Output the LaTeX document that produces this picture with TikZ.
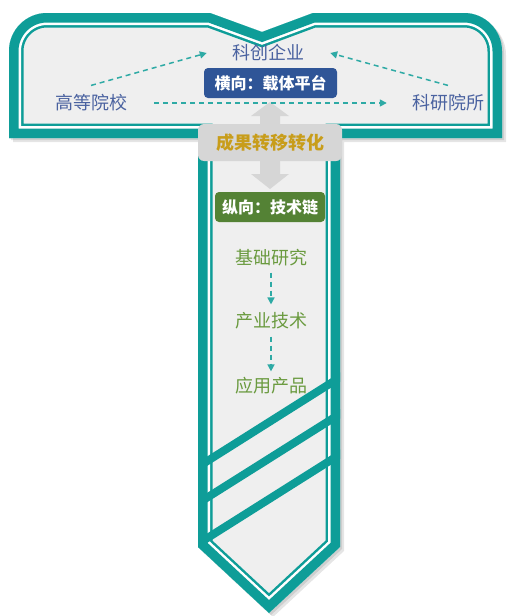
\documentclass[tikz,border=0pt]{standalone}
\usepackage{fontspec}
\newfontfamily\cjk{Noto Sans CJK SC}
\usetikzlibrary{arrows.meta}
\definecolor{tealA}{HTML}{0E9D98}
\definecolor{fillA}{HTML}{EFEFEF}
\definecolor{labelblue}{HTML}{4A62A0}
\definecolor{boxblue}{HTML}{2F5597}
\definecolor{boxgray}{HTML}{D6D6D6}
\definecolor{gold}{HTML}{C89D1A}
\definecolor{boxgreen}{HTML}{548235}
\definecolor{txtgreen}{HTML}{6A9A3F}
\definecolor{dashteal}{HTML}{2EAAA5}
\def\Tpath{(9,138) -- (9,51) .. controls (9,30) and (26,13) .. (47,13) -- (210,13) -- (262,32) -- (313,13) -- (464,13) .. controls (485,13) and (502,30) .. (502,51) -- (502,138) -- (340,138) -- (340,547) -- (269,613) -- (198,547) -- (198,138) -- cycle}
\begin{document}
\begin{tikzpicture}[x=1pt,y=-1pt,
  toplabel/.style={font=\cjk\fontsize{18}{18}\selectfont, text=labelblue, inner sep=0pt},
  greenlabel/.style={font=\cjk\fontsize{18}{18}\selectfont, text=txtgreen, inner sep=0pt},
  bluebox/.style={font=\cjk\bfseries\fontsize{16}{16}\selectfont, text=white, fill=boxblue, rounded corners=4pt, minimum width=133pt, minimum height=30pt, inner sep=0pt},
  greenbox/.style={font=\cjk\bfseries\fontsize{16}{16}\selectfont, text=white, fill=boxgreen, rounded corners=4pt, minimum width=110pt, minimum height=30pt, inner sep=0pt},
  graybox/.style={font=\cjk\bfseries\fontsize{18}{18}\selectfont, text=gold, fill=boxgray, rounded corners=6pt, minimum width=144pt, minimum height=37pt, inner sep=0pt},
  dasharrow/.style={dashteal, line width=1.5pt, dash pattern=on 5pt off 4pt, -{Triangle[length=7pt,width=7pt]}},
  band/.style={line join=miter, miter limit=20}
]
\useasboundingbox (0,0) rectangle (508,616);
% shadow
\fill[black, opacity=0.10, shift={(4,4)}] \Tpath;
\fill[black, opacity=0.10, shift={(2,2)}] \Tpath;
% T shape
\begin{scope}
  \clip \Tpath;
  \fill[fillA] \Tpath;
  \draw[tealA, line width=29pt, band] \Tpath;
  \draw[white, line width=24pt, band] \Tpath;
  \draw[tealA, line width=19pt, band] \Tpath;
  % stripes
  \draw[tealA, line width=8pt] (190,472) -- (350,371);
  \draw[tealA, line width=8pt] (190,508.4) -- (350,407.6);
  \draw[tealA, line width=8pt] (190,549) -- (350,448);
\end{scope}
% double block arrow
\fill[boxgray] (270,102) -- (289,116) -- (280,116) -- (280,174) -- (289,174) -- (270,189) -- (251,174) -- (260,174) -- (260,116) -- (251,116) -- cycle;
% labels
\node[toplabel] (kc) at (268,53) {科创企业};
\node[toplabel] (gd) at (91,103) {高等院校};
\node[toplabel] (ky) at (448,103) {科研院所};
\node[bluebox] (hx) at (270.5,83) {横向：载体平台};
\node[graybox] (cg) at (270,142.5) {成果转移转化};
\node[greenbox] (zx) at (270,207) {纵向：技术链};
\node[greenlabel] (jc) at (271,258) {基础研究};
\node[greenlabel] (cy) at (271,321) {产业技术};
\node[greenlabel] (yy) at (271,386) {应用产品};
% connectors
\draw[dasharrow] ([yshift=9pt]gd.north) -- ([xshift=-25pt]kc.west);
\draw[dasharrow] ([yshift=9pt]ky.north) -- ([xshift=26pt]kc.east);
\draw[dasharrow] ([xshift=27pt]gd.east) -- ([xshift=-25pt]ky.west);
\draw[dasharrow] ([yshift=-6pt]jc.south) -- ([yshift=8pt]cy.north);
\draw[dasharrow] ([yshift=-7pt]cy.south) -- ([yshift=6pt]yy.north);
\end{tikzpicture}
\end{document}
